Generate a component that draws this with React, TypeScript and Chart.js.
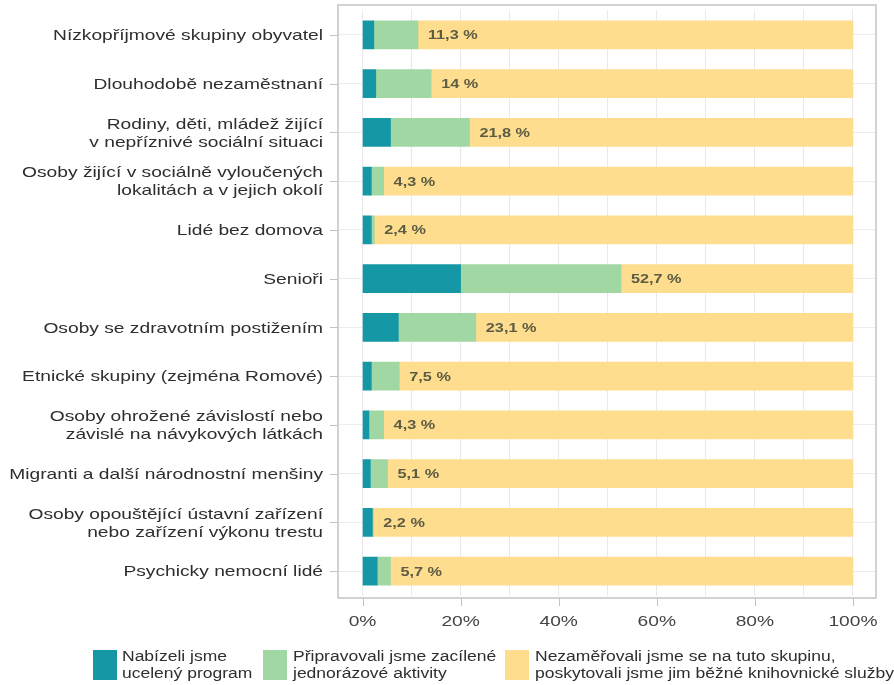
import React, { useEffect, useRef } from "react";
import { Chart, registerables } from "chart.js";

Chart.register(...registerables);

const categories: string[][] = [
  ["Nízkopříjmové skupiny obyvatel"],
  ["Dlouhodobě nezaměstnaní"],
  ["Rodiny, děti, mládež žijící", "v nepříznivé sociální situaci"],
  ["Osoby žijící v sociálně vyloučených", "lokalitách a v jejich okolí"],
  ["Lidé bez domova"],
  ["Senioři"],
  ["Osoby se zdravotním postižením"],
  ["Etnické skupiny (zejména Romové)"],
  ["Osoby ohrožené závislostí nebo", "závislé na návykových látkách"],
  ["Migranti a další národnostní menšiny"],
  ["Osoby opouštějící ústavní zařízení", "nebo zařízení výkonu trestu"],
  ["Psychicky nemocní lidé"],
];

const programValues = [2.3, 2.7, 5.7, 1.8, 1.8, 20.0, 7.3, 1.8, 1.3, 1.6, 2.0, 3.0];
const activityValues = [9.0, 11.3, 16.1, 2.5, 0.6, 32.7, 15.8, 5.7, 3.0, 3.5, 0.2, 2.7];
const totalLabels = [11.3, 14, 21.8, 4.3, 2.4, 52.7, 23.1, 7.5, 4.3, 5.1, 2.2, 5.7];
const otherValues = totalLabels.map((t) => 100 - t);

const seriesNames = [
  ["Nabízeli jsme", "ucelený program"],
  ["Připravovali jsme zacílené", "jednorázové aktivity"],
  ["Nezaměřovali jsme se na tuto skupinu,", "poskytovali jsme jim běžné knihovnické služby"],
];
const colors = ["#1597a6", "#a1d7a3", "#fedd8e"];
const xTickValues = [0, 10, 20, 30, 40, 50, 60, 70, 80, 90, 100];
const xLabelValues = [0, 20, 40, 60, 80, 100];

const FONT = "'Liberation Sans', Arial, sans-serif";
const STRETCH = 1.28;

function stretchedText(ctx: any, text: string, x: number, y: number, align: string, sx: number) {
  ctx.save();
  ctx.translate(x, y);
  ctx.scale(sx, 1);
  ctx.textAlign = align;
  ctx.fillText(text, 0, 0);
  ctx.restore();
}

function boxOf(chart: any) {
  const a = chart.chartArea;
  return { left: a.left, right: a.right, top: a.top - 5.5, bottom: a.bottom + 2.5 };
}

const boxPlugin = {
  id: "box",
  afterDatasetsDraw(chart: any) {
    const { ctx } = chart;
    const b = boxOf(chart);
    const xs = chart.scales.x;
    const ys = chart.scales.y;
    ctx.save();
    ctx.strokeStyle = "#c4c4c4";
    ctx.lineWidth = 1.5;
    ctx.strokeRect(b.left, b.top, b.right - b.left, b.bottom - b.top);
    ctx.lineWidth = 1;
    ctx.beginPath();
    xLabelValues.forEach((v) => {
      const x = Math.round(xs.getPixelForValue(v)) + 0.5;
      ctx.moveTo(x, b.bottom);
      ctx.lineTo(x, b.bottom + 8);
    });
    categories.forEach((_, i) => {
      const y = Math.round(ys.getPixelForValue(i)) + 0.5;
      ctx.moveTo(b.left - 8, y);
      ctx.lineTo(b.left, y);
    });
    ctx.stroke();
    ctx.restore();
  },
};

const axisLabelPlugin = {
  id: "axisLabels",
  afterDraw(chart: any) {
    const { ctx } = chart;
    const xs = chart.scales.x;
    const ys = chart.scales.y;
    const b = boxOf(chart);
    ctx.save();
    ctx.textBaseline = "middle";
    ctx.font = `15px ${FONT}`;
    ctx.fillStyle = "#2e2e2e";
    categories.forEach((lines, i) => {
      const yc = ys.getPixelForValue(i);
      const lh = 18;
      const start = yc - ((lines.length - 1) * lh) / 2;
      lines.forEach((ln, j) => stretchedText(ctx, ln, b.left - 15, start + j * lh + 1, "right", STRETCH));
    });
    ctx.fillStyle = "#444444";
    xLabelValues.forEach((v) => {
      stretchedText(ctx, v + "%", xs.getPixelForValue(v), b.bottom + 24, "center", STRETCH);
    });
    ctx.restore();
  },
};

const valueLabelPlugin = {
  id: "valueLabels",
  afterDatasetsDraw(chart: any) {
    const { ctx } = chart;
    const meta = chart.getDatasetMeta(1);
    ctx.save();
    ctx.font = `bold 13px ${FONT}`;
    ctx.fillStyle = "#5c5c44";
    ctx.textBaseline = "middle";
    meta.data.forEach((bar: any, i: number) => {
      const txt = String(totalLabels[i]).replace(".", ",") + " %";
      stretchedText(ctx, txt, bar.x + 10, bar.y + 1, "left", 1.25);
    });
    ctx.restore();
  },
};

const legendPlugin = {
  id: "customLegend",
  afterDraw(chart: any) {
    const { ctx } = chart;
    const items = [
      { box: 93, text: 122 },
      { box: 263, text: 293 },
      { box: 505, text: 535 },
    ];
    ctx.save();
    ctx.font = `14px ${FONT}`;
    ctx.textBaseline = "middle";
    items.forEach((it, i) => {
      ctx.fillStyle = colors[i];
      ctx.fillRect(it.box, 650, 24, 30);
      ctx.fillStyle = "#2e2e2e";
      stretchedText(ctx, seriesNames[i][0], it.text, 657, "left", 1.25);
      stretchedText(ctx, seriesNames[i][1], it.text, 674, "left", 1.25);
    });
    ctx.restore();
  },
};

export default function App() {
  const ref = useRef<HTMLCanvasElement>(null);
  useEffect(() => {
    document.body.style.margin = "0";
    const chart = new Chart(ref.current!, {
      type: "bar",
      data: {
        labels: categories.map((c) => c.join(" ")),
        datasets: [
          { label: seriesNames[0].join(" "), data: programValues, backgroundColor: colors[0] },
          { label: seriesNames[1].join(" "), data: activityValues, backgroundColor: colors[1] },
          { label: seriesNames[2].join(" "), data: otherValues, backgroundColor: colors[2] },
        ],
      },
      options: {
        indexAxis: "y",
        animation: false,
        responsive: false,
        maintainAspectRatio: false,
        datasets: { bar: { barThickness: 28, borderWidth: 0 } },
        layout: { padding: { top: 10.5, right: 18, left: 0, bottom: 0 } },
        plugins: { legend: { display: false }, tooltip: { enabled: false } },
        scales: {
          x: {
            stacked: true,
            min: -5,
            max: 104.7,
            afterBuildTicks: (scale: any) => {
              scale.ticks = xTickValues.map((v) => ({ value: v }));
            },
            afterFit: (scale: any) => {
              scale.height = 89.5;
            },
            border: { display: false },
            grid: { color: "#e9e9e9", lineWidth: 1, drawTicks: false },
            ticks: { display: false },
          },
          y: {
            stacked: true,
            afterFit: (scale: any) => {
              scale.width = 338;
            },
            border: { display: false },
            grid: { offset: false, color: "#ececec", drawTicks: false },
            ticks: { display: false },
          },
        },
      },
      plugins: [boxPlugin, valueLabelPlugin, axisLabelPlugin, legendPlugin],
    });
    return () => chart.destroy();
  }, []);
  return (
    <div style={{ width: 894, height: 685 }}>
      <canvas ref={ref} width={894} height={685} style={{ width: 894, height: 685, display: "block" }} />
    </div>
  );
}
